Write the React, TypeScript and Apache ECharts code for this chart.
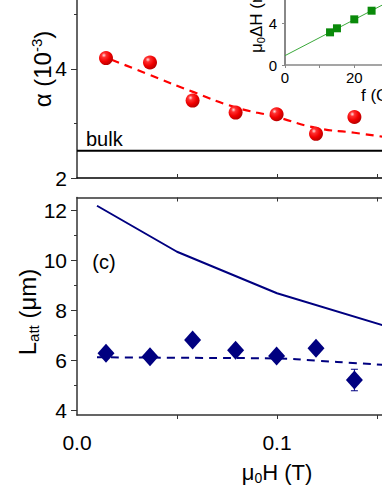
import React, { useEffect, useRef } from 'react';
import * as echarts from 'echarts';

// ---- data ----
const fieldH = [0.0145, 0.0365, 0.0578, 0.0793, 0.0998, 0.1195, 0.1387];
const alphaVals = [4.2, 4.12, 3.42, 3.2, 3.17, 2.81, 3.12];
const alphaFitH = [0.0173, 0.0365, 0.058, 0.079, 0.0997, 0.1195, 0.1387, 0.1525];
const alphaFitVals = [4.17, 3.89, 3.58, 3.3, 3.12, 2.92, 2.83, 2.76];
const bulkAlpha = 2.5;

const lattVals = [6.27, 6.13, 6.8, 6.39, 6.16, 6.47, 5.2];
const lattErr = [0.12, 0.1, 0.12, 0.1, 0.12, 0.15, 0.43];
const lattCalcH = [0.01, 0.05, 0.1, 0.16];
const lattCalcVals = [12.17, 10.33, 8.67, 7.22];
const lattFitH = [0.01, 0.05, 0.1, 0.12, 0.14, 0.16];
const lattFitVals = [6.11, 6.09, 6.06, 5.97, 5.87, 5.77];

const insetF = [13, 15, 20, 25];
const insetDH = [3.14, 3.53, 4.39, 5.22];
const insetFitF = [0, 28];
const insetFitDH = [0.9, 5.75];

const xTicks = [0.05, 0.1, 0.15];
const xLabels = [0, 0.1];
const alphaMajor = [2, 4];
const alphaMinor = [3, 5];
const lattMajor = [4, 6, 8, 10, 12];
const lattMinor = [5, 7, 9, 11];
const insetXLabels = [0, 20];
const insetYLabels = [0, 4];

const FONT = 'Liberation Sans, Arial, Helvetica, sans-serif';
const NAVY = '#000080';
const AXIS = '#333';

const zip = (a: number[], b: number[]) => a.map((v, i) => [v, b[i]]);

function buildOption(): any {
  const hideAll = { show: false };
  const xBase = { type: 'value', min: 0, max: 0.1525, splitLine: hideAll };
  const xAxis = [
    {
      ...xBase, gridIndex: 0, position: 'bottom',
      axisLine: { show: true, onZero: false, lineStyle: { color: '#000', width: 1.5 } },
      axisTick: { show: true, inside: true, length: 4, customValues: xTicks, lineStyle: { color: AXIS } },
      axisLabel: { show: false },
    },
    {
      ...xBase, gridIndex: 1, position: 'bottom',
      axisLine: { show: true, onZero: false, lineStyle: { color: AXIS, width: 1.5 } },
      axisTick: { show: true, inside: false, length: 4, customValues: xTicks, lineStyle: { color: AXIS } },
      axisLabel: {
        show: true, customValues: xLabels, margin: 17, fontSize: 21, color: '#000', fontFamily: FONT,
        formatter: (v: number) => v.toFixed(1),
      },
    },
    {
      ...xBase, gridIndex: 1, position: 'top',
      axisLine: { show: true, onZero: false, lineStyle: { color: AXIS, width: 1.5 } },
      axisTick: { show: true, inside: true, length: 4, customValues: xTicks, lineStyle: { color: AXIS } },
      axisLabel: { show: false },
    },
    {
      type: 'value', gridIndex: 2, min: 0, max: 28, splitLine: hideAll, position: 'bottom',
      axisLine: { show: true, onZero: false, lineStyle: { color: '#888', width: 1.5 } },
      axisTick: { show: true, inside: false, length: 3, customValues: [0, 10, 20], lineStyle: { color: '#888' } },
      axisLabel: { show: true, customValues: insetXLabels, margin: 5, fontSize: 15, color: '#000', fontFamily: FONT },
    },
  ];
  const yMajor = (grid: number, min: number, max: number, major: number[], color: string) => ({
    type: 'value', gridIndex: grid, min, max, position: 'left', splitLine: hideAll,
    axisLine: { show: true, onZero: false, lineStyle: { color, width: 1.5 } },
    axisTick: { show: true, inside: false, length: 6, customValues: major, lineStyle: { color } },
    axisLabel: { show: true, customValues: major, margin: 10, fontSize: 21, color: '#000', fontFamily: FONT },
  });
  const yMinor = (grid: number, min: number, max: number, minor: number[], color: string, len: number) => ({
    type: 'value', gridIndex: grid, min, max, position: 'left', splitLine: hideAll,
    axisLine: { show: false },
    axisTick: { show: true, inside: false, length: len, customValues: minor, lineStyle: { color } },
    axisLabel: { show: false },
  });
  const insetY: any = yMajor(2, 0, 6.25, insetYLabels, '#888');
  insetY.axisTick.length = 3;
  insetY.axisLabel.fontSize = 15;
  insetY.axisLabel.margin = 8;
  insetY.axisLine.lineStyle.width = 2;
  const yAxis = [
    yMajor(0, 2, 5.266, alphaMajor, AXIS),
    yMinor(0, 2, 5.266, alphaMinor, AXIS, 3),
    yMajor(1, 3.8, 12.5, lattMajor, AXIS),
    yMinor(1, 3.8, 12.5, lattMinor, AXIS, 3),
    insetY,
  ];

  const sphere = new echarts.graphic.RadialGradient(0.35, 0.3, 0.75, [
    { offset: 0, color: '#ffe0e0' },
    { offset: 0.22, color: '#ff3030' },
    { offset: 0.6, color: '#f00000' },
    { offset: 1, color: '#b00000' },
  ]);

  const series: any[] = [
    {
      type: 'line', xAxisIndex: 0, yAxisIndex: 0, data: [[0, bulkAlpha], [0.1525, bulkAlpha]],
      symbol: 'none', lineStyle: { color: '#000', width: 2 }, z: 2,
    },
    {
      type: 'line', xAxisIndex: 0, yAxisIndex: 0, data: zip(alphaFitH, alphaFitVals), smooth: true,
      symbol: 'none', lineStyle: { color: '#ff0000', width: 2.2, type: [8, 6] }, z: 2,
    },
    {
      type: 'scatter', xAxisIndex: 0, yAxisIndex: 0, data: zip(fieldH, alphaVals),
      symbol: 'circle', symbolSize: 14, itemStyle: { color: sphere, opacity: 1 }, z: 3,
    },
    {
      type: 'line', xAxisIndex: 1, yAxisIndex: 2, data: zip(lattCalcH, lattCalcVals),
      symbol: 'none', lineStyle: { color: NAVY, width: 2 }, z: 2,
    },
    {
      type: 'line', xAxisIndex: 1, yAxisIndex: 2, data: zip(lattFitH, lattFitVals), smooth: true,
      symbol: 'none', lineStyle: { color: NAVY, width: 2, type: [8, 6] }, z: 2,
    },
    {
      type: 'custom', xAxisIndex: 1, yAxisIndex: 2,
      data: fieldH.map((h, i) => [h, lattVals[i], lattErr[i]]),
      encode: { x: 0, y: 1 }, z: 2,
      renderItem: (params: any, api: any) => {
        const x = api.value(0), y = api.value(1), e = api.value(2);
        const t = api.coord([x, y + e]);
        const b = api.coord([x, y - e]);
        const st = { stroke: NAVY, lineWidth: 1 };
        return {
          type: 'group',
          children: [
            { type: 'line', shape: { x1: t[0], y1: t[1], x2: b[0], y2: b[1] }, style: st },
            { type: 'line', shape: { x1: t[0] - 3.5, y1: t[1], x2: t[0] + 3.5, y2: t[1] }, style: st },
            { type: 'line', shape: { x1: b[0] - 3.5, y1: b[1], x2: b[0] + 3.5, y2: b[1] }, style: st },
          ],
        };
      },
    },
    {
      type: 'scatter', xAxisIndex: 1, yAxisIndex: 2, data: zip(fieldH, lattVals),
      symbol: 'diamond', symbolSize: [17, 19], itemStyle: { color: NAVY, opacity: 1 }, z: 3,
    },
    {
      type: 'line', xAxisIndex: 3, yAxisIndex: 4, data: zip(insetFitF, insetFitDH),
      symbol: 'none', lineStyle: { color: '#3aa83a', width: 1 }, z: 2,
    },
    {
      type: 'scatter', xAxisIndex: 3, yAxisIndex: 4, data: zip(insetF, insetDH),
      symbol: 'rect', symbolSize: 8, itemStyle: { color: '#0a8a0a', opacity: 1 }, z: 3,
    },
  ];

  const txt = (x: number, y: number, text: string, rich: any, extra: any = {}) => ({
    type: 'text', x, y, ...extra,
    style: { text, rich, fill: '#000', fontFamily: FONT, align: 'center', verticalAlign: 'middle', ...(extra.style || {}) },
  });

  const graphic = [
    txt(42, 69, '{a|α (10}{s|-3}{a|)}', {
      a: { fontSize: 24, fontFamily: FONT, fill: '#000' },
      s: { fontSize: 15, fontFamily: FONT, fill: '#000', padding: [0, 0, 12, 0] },
    }, { rotation: Math.PI / 2 }),
    txt(27, 312, '{a|L}{s|att}{a| (μm)}', {
      a: { fontSize: 24, fontFamily: FONT, fill: '#000' },
      s: { fontSize: 15, fontFamily: FONT, fill: '#000', padding: [12, 0, 0, 0] },
    }, { rotation: Math.PI / 2 }),
    txt(277, 472, '{a|μ}{s|0}{a|H (T)}', {
      a: { fontSize: 22, fontFamily: FONT, fill: '#000' },
      s: { fontSize: 14, fontFamily: FONT, fill: '#000', padding: [11, 0, 0, 0] },
    }),
    txt(86, 139, 'bulk', undefined, { style: { fontSize: 20, align: 'left' } }),
    txt(104, 262, '(c)', undefined, { style: { fontSize: 20 } }),
    txt(256, 53, '{a|μ}{s|0}{a|ΔH (mT)}', {
      a: { fontSize: 17, fontFamily: FONT, fill: '#000' },
      s: { fontSize: 11, fontFamily: FONT, fill: '#000', padding: [9, 0, 0, 0] },
    }, { rotation: Math.PI / 2, style: { align: 'left' } }),
    txt(361, 95, 'f (GHz)', undefined, { style: { fontSize: 17, align: 'left' } }),
  ];

  return {
    animation: false,
    backgroundColor: '#fff',
    grid: [
      { left: 77, top: 0, width: 305, height: 178 },
      { left: 77, top: 197.5, width: 305, height: 217.5 },
      { left: 285, top: 0, width: 97, height: 65 },
    ],
    xAxis,
    yAxis,
    series,
    graphic,
  };
}

export default function App() {
  const ref = useRef<HTMLDivElement>(null);
  useEffect(() => {
    const chart = echarts.init(ref.current!, null, { renderer: 'svg' });
    chart.setOption(buildOption());
    return () => chart.dispose();
  }, []);
  return (
    <div
      ref={ref}
      style={{ position: 'absolute', left: 0, top: 0, width: 382, height: 494 }}
    />
  );
}
